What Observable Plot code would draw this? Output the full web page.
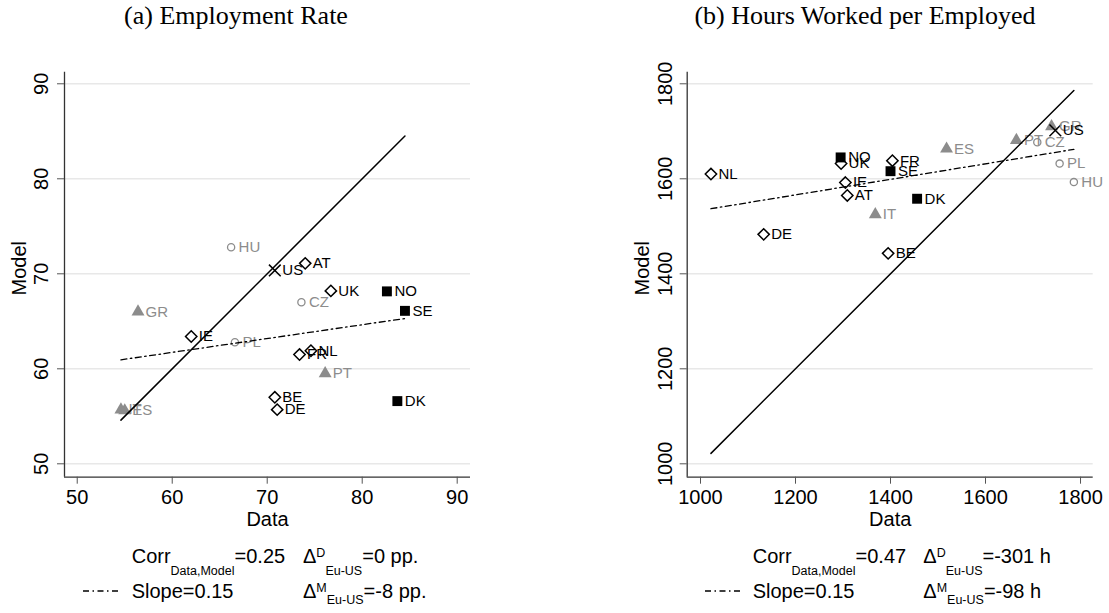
<!DOCTYPE html>
<html><head><meta charset="utf-8">
<script src="https://cdn.jsdelivr.net/npm/d3@7"></script>
<script src="https://cdn.jsdelivr.net/npm/@observablehq/plot@0.6"></script>
<style>
body{margin:0;background:#fff;}
#wrap{position:relative;width:1109px;height:613px;overflow:hidden;background:#fff;font-family:"Liberation Sans",Arial,sans-serif;color:#000;}
.title{position:absolute;top:1px;font-family:"Liberation Serif","Times New Roman",serif;font-size:26px;line-height:30px;white-space:nowrap;transform:translateX(-50%);}
.panel{position:absolute;top:0;}
.note{position:absolute;font-size:20px;line-height:20px;white-space:nowrap;}
.sub{font-size:12.5px;position:relative;}
.sup{font-size:12.5px;position:relative;top:-6px;}
.leg{position:absolute;line-height:0;}
.leg svg{display:block;}
</style></head>
<body><div id="wrap"></div>
<script>
// ---- data ----
const countries = ["AT","BE","CZ","DE","DK","ES","FR","GR","HU","IE","IT","NL","NO","PL","PT","SE","UK","US"];
const groups    = ["cont","cont","east","cont","nordic","south","cont","south","east","cont","south","cont","nordic","east","south","nordic","cont","us"];
const empData   = [74.0,70.8,73.6,71.05,83.7,55.0,73.4,56.4,66.2,62.0,54.6,74.6,82.6,66.6,76.1,84.5,76.7,70.8];
const empModel  = [71.1,57.0,67.0,55.7,56.6,55.6,61.5,66.0,72.8,63.4,55.7,61.9,68.15,62.8,59.5,66.1,68.2,70.35];
const hoursData = [1309,1395,1709,1133,1456,1518,1404,1739,1786,1305,1368,1022,1295,1756,1665,1400,1296,1747];
const hoursModel= [1565,1443,1677,1483,1558,1663,1638,1710,1593,1592,1525,1610,1645,1632,1681,1616,1632,1702];
const empTicks   = [50,60,70,80,90];
const hoursTicks = [1000,1200,1400,1600,1800];
const fitIntercept = [53.0, 1369.8];
const fitSlope     = [0.1455, 0.1636];
const titles    = ["(a) Employment Rate","(b) Hours Worked per Employed"];
const corrText  = ["0.25","0.47"];
const slopeText = ["0.15","0.15"];
const deltaD    = ["0 pp.","-301 h"];
const deltaM    = ["-8 pp.","-98 h"];
const xLabel = "Data", yLabel = "Model";

// ---- styles ----
const GRAY = "#8c8c8c";
const sty = {
  cont:   {symbol:"diamond2", fill:"none", stroke:"black", strokeWidth:1.5, r:5.1, label:"black"},
  nordic: {symbol:"square", fill:"black", stroke:"none", r:5.6, label:"black"},
  south:  {symbol:"triangle", fill:GRAY, stroke:"none", r:4.8, label:GRAY},
  east:   {symbol:"circle", fill:"none", stroke:GRAY, strokeWidth:1.3, r:3.6, label:GRAY},
  us:     {symbol:"times", fill:"none", stroke:"black", strokeWidth:1.5, r:5.4, label:"black"}
};

const wrap = document.getElementById("wrap");

function panel(i, xs, ys, ticks, xDomain, yDomain, left, marginLeft, marginRight, tickDx) {
  const rows = countries.map((c, k) => ({c, g: groups[k], x: xs[k], y: ys[k]}));
  const lo = d3.min(xs), hi = d3.max(xs);
  const a = fitIntercept[i], b = fitSlope[i];
  const dotMarks = Object.keys(sty).map(g => {
    const s = sty[g];
    return Plot.dot(rows.filter(d => d.g === g), {x:"x", y:"y", symbol: s.symbol, fill: s.fill, stroke: s.stroke, strokeWidth: s.strokeWidth || 1, r: s.r});
  });
  const labelMarks = Object.keys(sty).map(g => Plot.text(rows.filter(d => d.g === g), {
    x:"x", y:"y", text:"c", dx:7.5, textAnchor:"start", lineAnchor:"middle", fill: sty[g].label, fontSize:15
  }));
  const svg = Plot.plot({
    width: 554, height: 540,
    marginLeft, marginRight, marginTop: 71.7, marginBottom: 63.3,
    x: {domain: xDomain}, y: {domain: yDomain},
    style: {fontFamily: "'Liberation Sans', Arial, sans-serif", fontSize: "20px", background: "transparent", overflow: "visible"},
    marks: [
      Plot.gridY(ticks, {stroke: "#e8e8e8", strokeOpacity: 1, strokeWidth: 1.4}),
      Plot.ruleX([xDomain[0]], {stroke: "#333", strokeWidth: 1.3}),
      Plot.ruleY([yDomain[0]], {stroke: "#333", strokeWidth: 1.3}),
      Plot.axisX(ticks, {tickSize: 7, tickPadding: 6, tickFormat: d => String(d), label: null, fontSize: 20, stroke: "#555"}),
      Plot.axisY(ticks, {tickSize: 7, tickFormat: () => "", label: null, stroke: "#555"}),
      Plot.text(ticks, {y: d => d, text: d => String(d), frameAnchor: "left", rotate: -90, textAnchor: "middle", lineAnchor: "bottom", dx: tickDx, fontSize: 20}),
      Plot.text([yLabel], {frameAnchor: "left", rotate: -90, textAnchor: "middle", lineAnchor: "bottom", dx: -38.5, dy: -6.5, fontSize: 20}),
      Plot.text([xLabel], {frameAnchor: "bottom", textAnchor: "middle", lineAnchor: "top", dy: 35, fontSize: 20}),
      ...dotMarks,
      ...labelMarks,
      Plot.line([lo, hi], {x: d => d, y: d => d, stroke: "black", strokeWidth: 1.5}),
      Plot.line([lo, hi], {x: d => d, y: d => a + b * d, stroke: "black", strokeWidth: 1.3, strokeDasharray: "6,3.5,1.5,3.5"})
    ]
  });
  svg.classList.add("panel");
  svg.style.left = left + "px";
  wrap.appendChild(svg);
}

panel(0, empData, empModel, empTicks, [48.66, 91.4], [48.59, 91.22], 0, 64, 84, -17);
panel(1, hoursData, hoursModel, hoursTicks, [972, 1826.7], [971.8, 1824.4], 555, 131.7, 16.3, -15);

// titles
const titleX = [236, 865];
titles.forEach((t, i) => {
  const d = document.createElement("div");
  d.className = "title"; d.style.left = titleX[i] + "px"; d.textContent = t;
  wrap.appendChild(d);
});

// notes
const noteX = [131.7, 752.7], deltaX = [303, 923.3], legX = [83, 705];
const line1Top = 545.8, line2Top = 581.4;
function note(x, top, html) {
  const d = document.createElement("div");
  d.className = "note"; d.style.left = x + "px"; d.style.top = top + "px"; d.innerHTML = html;
  wrap.appendChild(d);
}
for (let i = 0; i < 2; i++) {
  note(noteX[i], line1Top, `Corr<span class="sub" style="top:12px">Data,Model</span>=${corrText[i]}`);
  note(deltaX[i], line1Top, `Δ<span class="sup">D</span><span class="sub" style="top:12px">Eu-US</span>=${deltaD[i]}`);
  note(noteX[i], line2Top, `Slope=${slopeText[i]}`);
  note(deltaX[i], line2Top, `Δ<span class="sup">M</span><span class="sub" style="top:6px">Eu-US</span>=${deltaM[i]}`);
  const leg = document.createElement("div");
  leg.className = "leg"; leg.style.left = legX[i] + "px"; leg.style.top = "589px";
  leg.innerHTML = `<svg width="36" height="4"><line x1="0" y1="2" x2="36" y2="2" stroke="black" stroke-width="1.3" stroke-dasharray="6,3.5,1.5,3.5"/></svg>`;
  wrap.appendChild(leg);
}
</script>
</body></html>
